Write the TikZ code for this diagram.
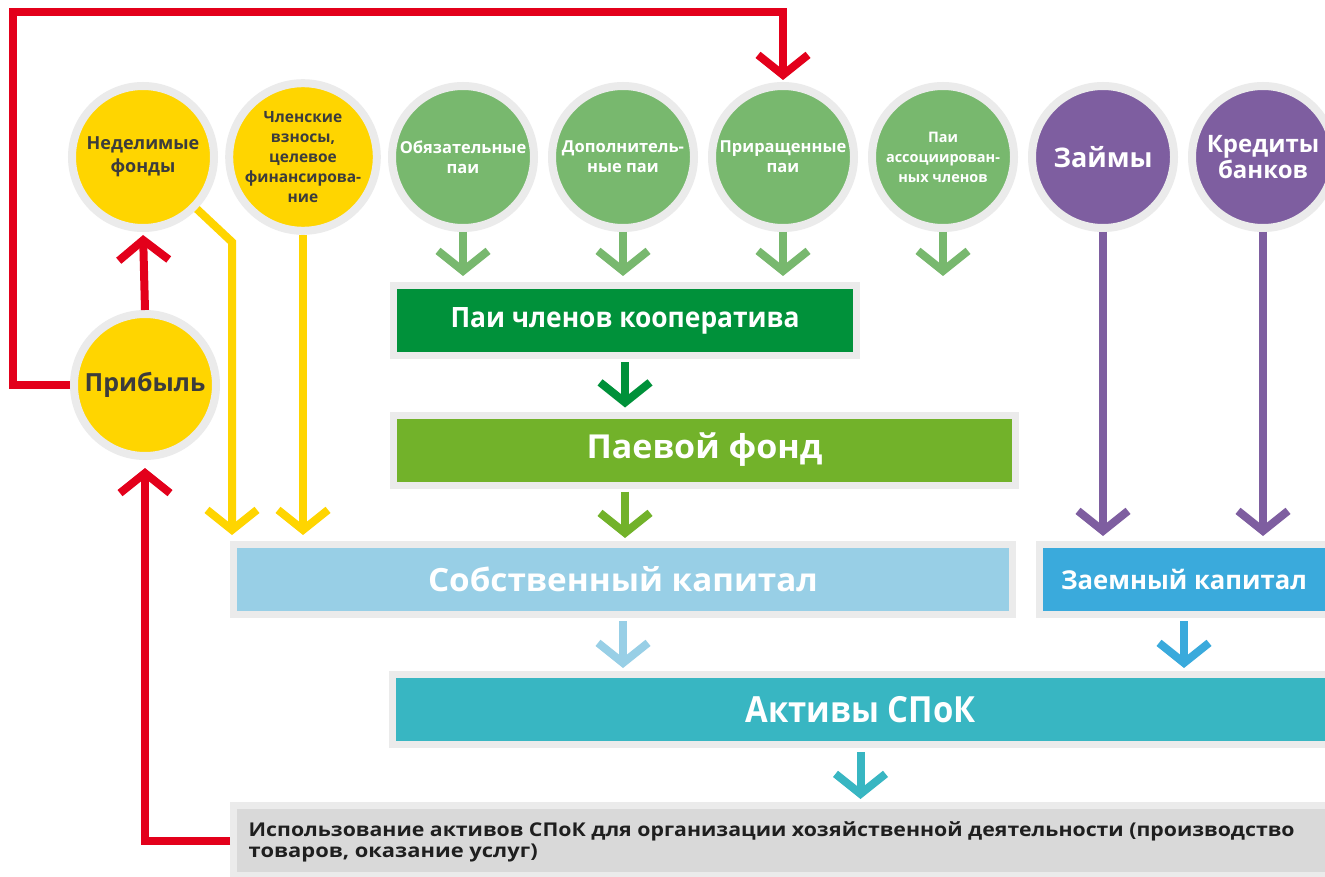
\documentclass[tikz,border=0pt]{standalone}
\usepackage{fontspec}
\setmainfont{Open Sans}
\usetikzlibrary{arrows.meta}
\definecolor{ringg}{HTML}{EBEBEB}
\definecolor{yel}{HTML}{FFD500}
\definecolor{dtext}{HTML}{3C3C3C}
\definecolor{gcirc}{HTML}{78B86E}
\definecolor{dgreen}{HTML}{00913A}
\definecolor{mgreen}{HTML}{72B22A}
\definecolor{lblue}{HTML}{98CFE6}
\definecolor{blue1}{HTML}{3AAADC}
\definecolor{teal1}{HTML}{38B6C2}
\definecolor{purp}{HTML}{7E5EA0}
\definecolor{lgray}{HTML}{D9D9D9}
\definecolor{redc}{HTML}{E3001B}
\newcommand\fs[2]{\fontsize{#1}{#2}\selectfont}
\newcommand\sqz[2]{\resizebox{#1}{\height}{#2}}
\begin{document}
\begin{tikzpicture}[x=1pt,y=-1pt,
  ring/.style={circle, draw=ringg, line width=8pt, minimum size=142pt, inner sep=0pt, align=center},
  boxx/.style={rectangle, draw=ringg, line width=7pt, inner sep=0pt, minimum height=70pt, text=white, font=\bfseries},
  conn/.style={line width=8pt, -{Straight Barb[length=20pt,width=50pt,sharp]}},
]
\useasboundingbox (0,0) rectangle (1325,877);
\clip (0,0) rectangle (1325,877);
\fill[white] (0,0) rectangle (1325,877);

% circles
\node[ring, fill=yel, text=dtext, font=\bfseries\fs{18}{23}] (nedel) at (143,157) {Неделимые\\фонды};
\node[ring, fill=yel, text=dtext, font=\bfseries\fs{15.5}{20}] (chlen) at (303,157) {Членские\\взносы,\\целевое\\финансирова-\\ние};
\node[ring, fill=gcirc, text=white, font=\bfseries\fs{16.5}{20}] (obyaz) at (463,157) {Обязательные\\паи};
\node[ring, fill=gcirc, text=white, font=\bfseries\fs{16.5}{20}] (dop) at (623,157) {Дополнитель-\\ные паи};
\node[ring, fill=gcirc, text=white, font=\bfseries\fs{16.5}{20}] (prir) at (783,157) {Приращенные\\паи};
\node[ring, fill=gcirc, text=white, font=\bfseries\fs{14.5}{20}] (assoc) at (943,157) {Паи\\ассоциирован-\\ных членов};
\node[ring, fill=purp, text=white, font=\bfseries\fs{27}{30}] (zaimy) at (1103,157) {Займы};
\node[ring, fill=purp, text=white, font=\bfseries\fs{24}{26}] (kred) at (1263,157) {Кредиты\\банков};
\node[ring, fill=yel, text=dtext, font=\bfseries\fs{25}{28}] (prib) at (145,385) {Прибыль};

% boxes
\node[boxx, fill=dgreen, minimum width=463pt, font=\bfseries\fs{28}{30}] (paichl) at (625,320.5) {\sqz{349pt}{Паи членов кооператива}};
\node[boxx, fill=mgreen, minimum width=622pt, font=\bfseries\fs{33}{36}] (paevoy) at (704.5,450) {\sqz{236pt}{Паевой фонд}};
\node[boxx, fill=lblue, minimum width=779pt, font=\bfseries\fs{32}{34}] (sobst) at (623,579.5) {\sqz{390pt}{Собственный капитал}};
\node[boxx, fill=blue1, minimum width=289pt, font=\bfseries\fs{26}{28}] (zaem) at (1184,579.5) {\sqz{246pt}{Заемный капитал}};
\node[boxx, fill=teal1, minimum width=936pt, font=\bfseries\fs{36}{38}] (aktiv) at (860.5,709.5) {\sqz{230pt}{Активы СПоК}};
\node[boxx, fill=lgray, minimum width=1110pt] (usebox) at (788.5,840.5) {};
\node[anchor=west, text=black!88, font=\bfseries\fs{19}{21}, align=left, inner sep=0pt] (usetxt) at ([xshift=18.5pt,yshift=-1.5pt]usebox.west)
  {\sqz{1046pt}{Использование активов СПоК для организации хозяйственной деятельности (производство}\\
   \sqz{289pt}{товаров, оказание услуг)}};

% green circle connectors
\foreach \n in {obyaz,dop,prir,assoc}
  \draw[conn, gcirc, shorten >=6pt] (\n.south) -- (\n.south |- paichl.north);
% purple
\foreach \n in {zaimy,kred}
  \draw[conn, purp, shorten >=5pt] (\n.south) -- (\n.south |- zaem.north);
% yellow
\coordinate (ybend) at (232,242);
\draw[conn, yel, shorten >=6pt] (nedel.-44) -- (ybend) -- (ybend |- sobst.north);
\draw[conn, yel, shorten >=6pt] (chlen.south) -- (chlen.south |- sobst.north);
% box chain
\draw[conn, dgreen, shorten <=3pt, shorten >=4pt] (paichl.south) -- (paichl.south |- paevoy.north);
\draw[conn, mgreen, shorten <=3pt, shorten >=3pt] (paichl.south |- paevoy.south) -- (paichl.south |- sobst.north);
\draw[conn, lblue, shorten <=3pt, shorten >=3pt] (sobst.south) -- (sobst.south |- aktiv.north);
\draw[conn, blue1, shorten <=3pt, shorten >=3pt] (zaem.south) -- (zaem.south |- aktiv.north);
\draw[conn, teal1, shorten <=4pt, shorten >=3pt] (aktiv.south) -- (aktiv.south |- usebox.north);
% red
\coordinate (rtl) at (13,12);
\draw[conn, redc, shorten >=2pt] (prib.west) -| (rtl) -| (prir.north);
\draw[conn, redc, shorten >=8pt] (usebox.west) -| (prib.south);
\draw[conn, redc, shorten >=3pt] (prib.north) -- (nedel.south);
\end{tikzpicture}
\end{document}
